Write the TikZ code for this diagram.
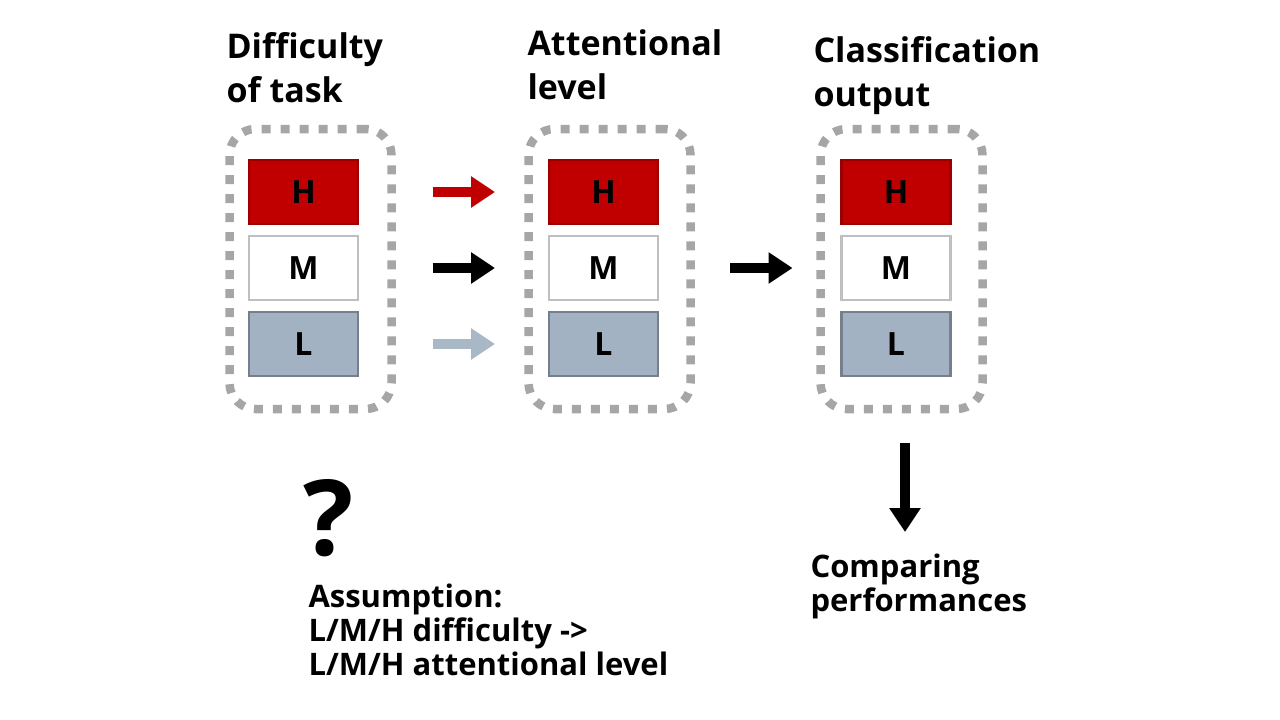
\documentclass[tikz,border=0pt]{standalone}
\usepackage{fontspec}
\setmainfont{Open Sans}
\usetikzlibrary{arrows.meta}
\definecolor{hired}{HTML}{C00000}
\definecolor{hiborder}{HTML}{9A0000}
\definecolor{midborder}{HTML}{BFBFBF}
\definecolor{lowfill}{HTML}{A3B2C3}
\definecolor{lowborder}{HTML}{76808C}
\definecolor{dotgray}{HTML}{A6A6A6}
\definecolor{lowarrow}{HTML}{A9B8C7}
\begin{document}
\begin{tikzpicture}[x=1pt,y=-1pt,
    level/.style={minimum width=109pt,minimum height=64pt,line width=2.5pt,inner sep=0pt,
      font=\fontsize{32}{32}\selectfont\bfseries},
    high/.style={level,fill=hired,draw=hiborder},
    mid/.style={level,fill=white,draw=midborder},
    low/.style={level,fill=lowfill,draw=lowborder},
    group/.style={draw=dotgray,line width=8.5pt,dash pattern=on 9pt off 10pt,
      rounded corners=26pt,minimum width=162pt,minimum height=280pt,inner sep=0pt},
    heading/.style={anchor=base west,align=left,font=\fontsize{34}{44}\selectfont\bfseries},
    note/.style={anchor=base west,align=left,font=\fontsize{31}{34}\selectfont\bfseries},
    fat/.style={line width=10pt,-{Triangle[length=24pt,width=30pt]}}]
      \useasboundingbox (0,0) rectangle (1280,720);
      % the three columns
      \node[group] (d1) at (310.5,269) {};
      \node[group] (d2) at (609.5,269) {};
      \node[group] (d3) at (901.5,269) {};
      \node[high] (h1) at (303.5,192) {H};
      \node[mid] (m1) at (303.5,268) {M};
      \node[low] (l1) at (303.5,344) {L};
      \node[high] (h2) at (603.5,192) {H};
      \node[mid] (m2) at (603.5,268) {M};
      \node[low] (l2) at (603.5,344) {L};
      \node[high] (h3) at (896,192) {H};
      \node[mid] (m3) at (896,268) {M};
      \node[low] (l3) at (896,344) {L};
      % headings (base = last line)
      \node[heading] (t1) at (223,102) {Difficulty\\of task};
      \node[heading] (t2) at (524,99) {Attentional\\level};
      \node[heading] (t3) at (810,106) {Classification\\output};
      % arrows
      \draw[fat,hired,shorten <=73.5pt,shorten >=52.75pt] (h1.east) -- (h2.west);
      \draw[fat,black,shorten <=73.5pt,shorten >=52.75pt] (m1.east) -- (m2.west);
      \draw[fat,lowarrow,shorten <=73.5pt,shorten >=52.75pt] (l1.east) -- (l2.west);
      \draw[fat,black,shorten <=70.75pt,shorten >=47.75pt] (m2.east) -- (m3.west);
      \coordinate (top) at (905,443);
      \coordinate (tip) at (905,532);
      \draw[fat,black] (top) -- (tip);
      % notes
      \node[anchor=base west,font=\fontsize{105}{105}\selectfont\bfseries] (q) at (300,555) {?};
      \node[note] (as) at (305,675) {Assumption:\\L/M/H difficulty ->\\L/M/H attentional level};
      \node[note] (cmp) at (807,611) {Comparing\\performances};
\end{tikzpicture}
\end{document}
